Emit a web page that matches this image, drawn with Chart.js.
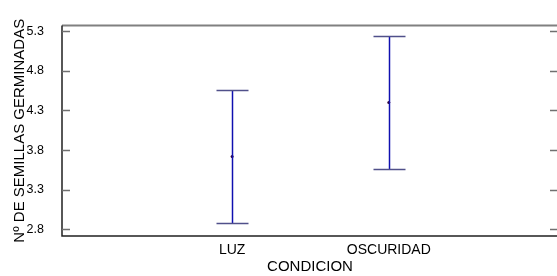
<!DOCTYPE html>
<html><head><meta charset="utf-8">
<style>html,body{margin:0;padding:0;overflow:hidden;background:#fff}#w{width:562px;height:276px}</style>
<script src="https://cdn.jsdelivr.net/npm/chart.js@4/dist/chart.umd.min.js"></script>
</head><body><div id="w"><canvas id="c" width="562" height="276"></canvas></div>
<script>
const categories = ['LUZ', 'OSCURIDAD'];
const means = [3.72, 4.40];
const upper = [4.56, 5.24];
const lower = [2.88, 3.56];
const yTicks = [2.8, 3.3, 3.8, 4.3, 4.8, 5.3];
const xTitle = 'CONDICION';
const yTitle = 'Nº DE SEMILLAS GERMINADAS';

const FONT = "'Liberation Sans', Arial, sans-serif";

const frame = {
  id: 'frame',
  afterDatasetsDraw(chart) {
    const ctx = chart.ctx, a = chart.chartArea, y = chart.scales.y;
    ctx.save();
    const xs = chart.scales.x;
    categories.forEach((c, i) => {
      const px = Math.round(xs.getPixelForValue(i + 1)) + 0.5;
      const pt = Math.round(y.getPixelForValue(upper[i])) + 0.5;
      const pb = Math.round(y.getPixelForValue(lower[i])) + 0.5;
      ctx.strokeStyle = '#1010b0'; ctx.lineWidth = 1.5;
      ctx.beginPath(); ctx.moveTo(px, pt); ctx.lineTo(px, pb); ctx.stroke();
      ctx.strokeStyle = '#50508a'; ctx.lineWidth = 1.5;
      ctx.beginPath();
      ctx.moveTo(px - 16, pt); ctx.lineTo(px + 16, pt);
      ctx.moveTo(px - 16, pb); ctx.lineTo(px + 16, pb);
      ctx.stroke();
    });
    ctx.strokeStyle = '#808080'; ctx.lineWidth = 2;
    ctx.beginPath(); ctx.moveTo(a.left, a.top); ctx.lineTo(a.right, a.top); ctx.stroke();
    ctx.strokeStyle = '#202020'; ctx.lineWidth = 1.5;
    ctx.beginPath(); ctx.moveTo(a.left, a.top); ctx.lineTo(a.left, a.bottom); ctx.lineTo(a.right, a.bottom); ctx.stroke();
    ctx.strokeStyle = '#707070'; ctx.lineWidth = 1.5;
    ctx.beginPath();
    y.ticks.forEach(t => {
      const py = Math.round(y.getPixelForValue(t.value)) + 0.5;
      ctx.moveTo(a.left, py); ctx.lineTo(a.left + 8, py);
      ctx.moveTo(a.right - 8, py); ctx.lineTo(a.right, py);
    });
    ctx.stroke();
    ctx.restore();
  }
};

new Chart(document.getElementById('c'), {
  type: 'scatter',
  data: {
    datasets: [{
      data: categories.map((c, i) => ({x: i + 1, y: means[i]})),
      pointRadius: 1.5, pointBackgroundColor: '#300030', pointBorderWidth: 0
    }]
  },
  options: {
    responsive: false, animation: false, devicePixelRatio: 1,
    layout: {padding: {top: 13, right: 3, left: 0, bottom: 0}},
    plugins: {legend: {display: false}, tooltip: {enabled: false}},
    scales: {
      x: {
        type: 'linear', min: -0.086, max: 3.08,
        afterBuildTicks: s => { s.ticks = categories.map((c, i) => ({value: i + 1})); },
        afterFit: s => { s.height = 40; },
        grid: {display: false, drawTicks: false}, border: {display: false},
        ticks: {callback: v => categories[v - 1] || '', color: '#000', padding: 6, maxRotation: 0,
                font: {family: FONT, size: 14}},
        title: {display: true, text: xTitle, color: '#000', padding: {top: 0, bottom: 0.5},
                font: {family: FONT, size: 15}}
      },
      y: {
        min: 2.717, max: 5.371,
        afterBuildTicks: s => { s.ticks = yTicks.map(v => ({value: v})); },
        afterFit: s => { s.width = 62; },
        grid: {display: false, drawTicks: false}, border: {display: false},
        ticks: {callback: v => v.toFixed(1), color: '#000', padding: 18,
                font: {family: FONT, size: 12.5}},
        title: {display: true, text: yTitle, color: '#000', padding: {top: 11, bottom: 0},
                font: {family: FONT, size: 15}}
      }
    }
  },
  plugins: [frame]
});
</script></body></html>
